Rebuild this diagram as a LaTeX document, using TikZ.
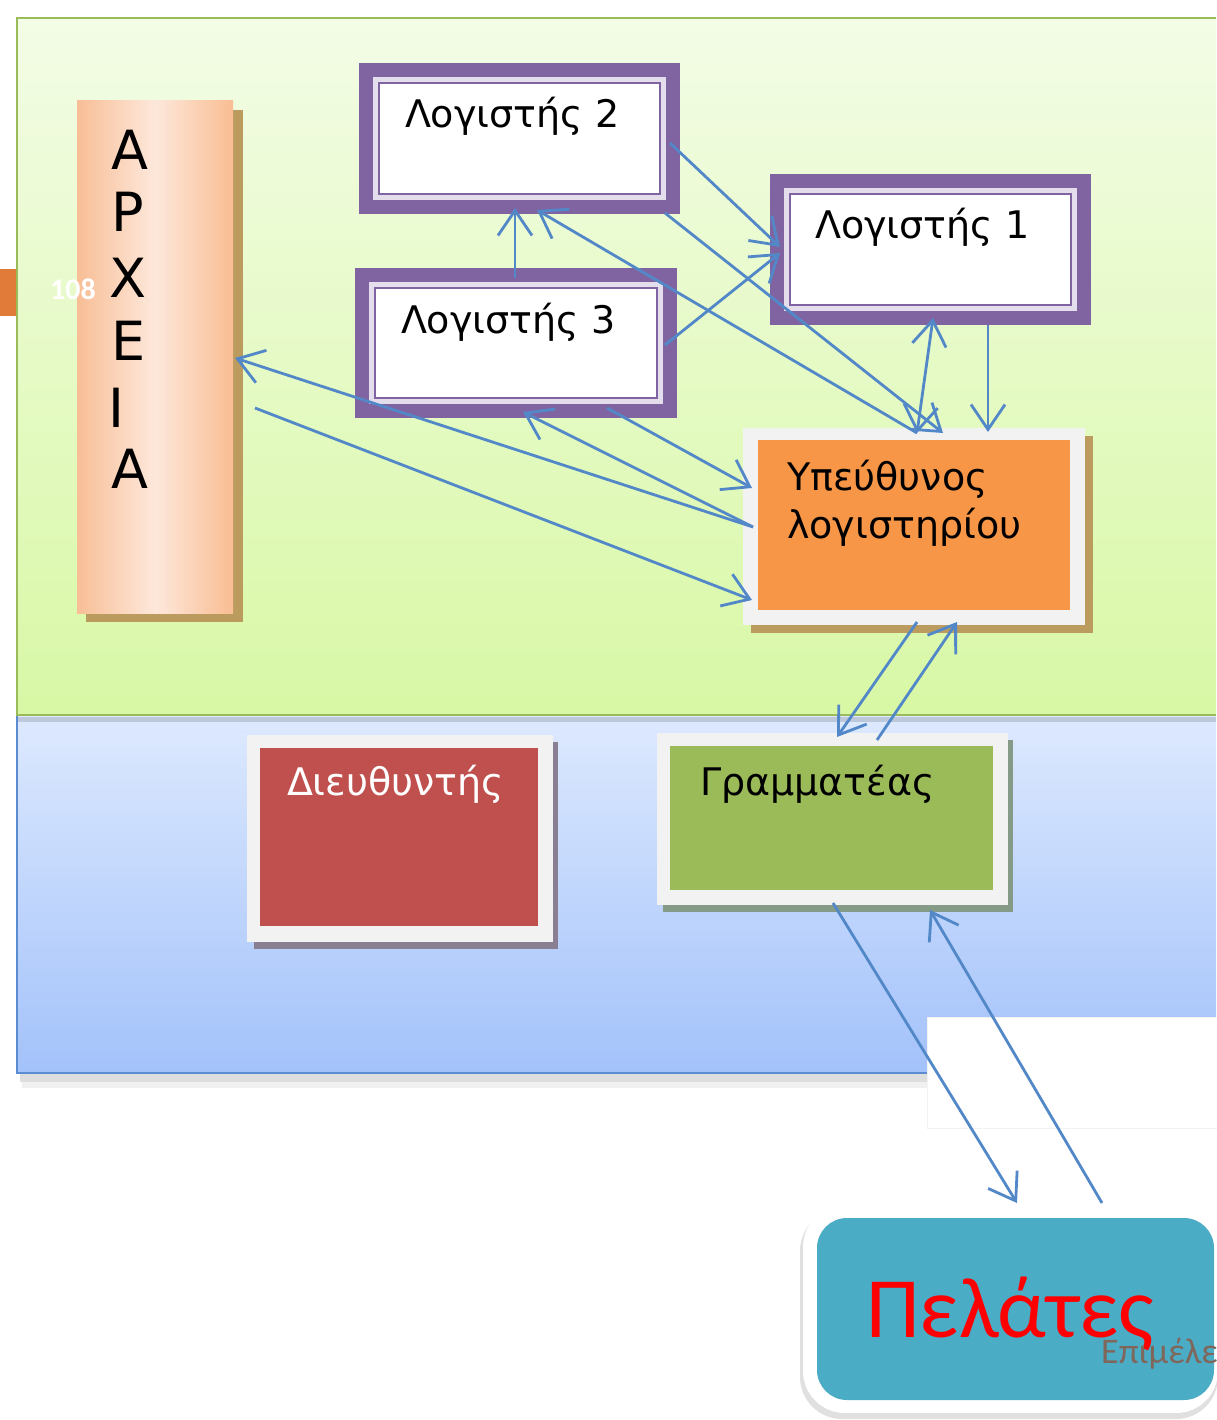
\documentclass[tikz,border=0pt]{standalone}
\usepackage{fontspec}
\setmainfont{DejaVu Sans}
\newfontfamily\calib{Carlito}
\usetikzlibrary{arrows.meta}
\definecolor{gtop}{HTML}{F3FCE6}
\definecolor{gbot}{HTML}{D8F8A5}
\definecolor{gborder}{HTML}{9BBB59}
\definecolor{btop}{HTML}{DDE9FE}
\definecolor{bbot}{HTML}{A3C2FA}
\definecolor{bborder}{HTML}{5B8BD0}
\definecolor{purplec}{HTML}{8064A2}
\definecolor{lavc}{HTML}{E4DDEC}
\definecolor{framegray}{HTML}{F2F2F2}
\definecolor{orangec}{HTML}{F79646}
\definecolor{tanc}{HTML}{BC9B5E}
\definecolor{redc}{HTML}{C0504D}
\definecolor{dshadow}{HTML}{8A7E92}
\definecolor{greenc}{HTML}{9BBB59}
\definecolor{gshadow}{HTML}{869A88}
\definecolor{tealc}{HTML}{4BACC6}
\definecolor{arrowc}{HTML}{5288C8}
\definecolor{tabc}{HTML}{E07B3A}
\definecolor{arxL}{HTML}{F8BE96}
\definecolor{arxM}{HTML}{FDE8DB}
\definecolor{arxR}{HTML}{F9BD93}
\definecolor{brownt}{HTML}{7F675C}
\begin{document}
\begin{tikzpicture}[x=1pt,y=-1pt,
  box/.style={inner sep=0pt, outer sep=0pt},
  purplebox/.style={box, fill=purplec, minimum width=321pt, minimum height=151pt},
  lbl/.style={inner sep=0pt, outer sep=0pt, anchor=base west, font=\fontsize{38}{44}\selectfont},
  arxl/.style={inner sep=0pt, outer sep=0pt, anchor=base west, font=\fontsize{54}{60}\selectfont},
  tipa/.tip={Straight Barb[length=25pt,width=34pt,line width=2.8pt]},
  conn/.style={draw=arrowc, line width=2.8pt, -tipa},
  biconn/.style={draw=arrowc, line width=2.8pt, tipa-tipa},
]
\useasboundingbox (0,0) rectangle (1216,1420);
\fill[white] (0,0) rectangle (1216,1420);

% green panel
\path[top color=gtop, bottom color=gbot] (17,18) rectangle (1216,715);
\draw[gborder, line width=2pt] (1216,18) -- (17,18) -- (17,715) -- (1216,715);
% blue panel
\path[top color=btop, bottom color=bbot] (17,716) rectangle (1216,1073);
\fill[black!40!btop, opacity=0.35] (18,717) rectangle (1216,722);
\fill[black, opacity=0.13] (20,1074) rectangle (927,1082);
\fill[black, opacity=0.06] (22,1082) rectangle (927,1088);
\draw[bborder, line width=2.5pt] (17,716) -- (17,1073) -- (927,1073);
% white cut-out
\path[fill=white, draw=black!5] (927,1017) rectangle (1217,1128);

% shadows
\fill[tanc] (86,110) rectangle (243,622);
\fill[tanc] (751,436) rectangle (1093,633);
\fill[dshadow] (254,742) rectangle (558,949);
\fill[gshadow] (663,740) rectangle (1013,912);
\fill[black, opacity=0.12, rounded corners=42] (800,1209) rectangle (1218,1419);

% ARXEIA
\node[box, minimum width=156pt, minimum height=512pt, left color=arxL, right color=arxR, middle color=arxM] (arx) at (155,357) {};
\node[arxl] (a1) at (111,170) {Α};
\node[arxl] (a2) at (111,232) {Ρ};
\node[arxl] (a3) at (109,298) {Χ};
\node[arxl] (a4) at (111,360) {Ε};
\node[arxl] (a5) at (108,427) {Ι};
\node[arxl] (a6) at (111,488) {Α};

% accountant boxes
\node[purplebox] (l2) at (519.5,138.5) {};
\node[purplebox, minimum width=322pt, minimum height=150pt] (l3) at (516,343) {};
\node[purplebox] (l1) at (930.5,249.5) {};
\foreach \n in {l1,l2,l3}{
  \path[fill=lavc] ([shift={(14,-14)}]\n.south west) rectangle ([shift={(-14,14)}]\n.north east);
  \path[fill=white, draw=purplec, line width=2.2pt] ([shift={(20,-20)}]\n.south west) rectangle ([shift={(-20,20)}]\n.north east);
}
\node[lbl] (l2t) at (405,128) {Λογιστής 2};
\node[lbl] (l3t) at (401,333) {Λογιστής 3};
\node[lbl] (l1t) at (815,239) {Λογιστής 1};

% head of accounting
\node[box, fill=framegray, minimum width=342pt, minimum height=197pt] (yp) at (914,526.5) {};
\path[fill=orangec] ([shift={(15,-15)}]yp.south west) rectangle ([shift={(-15,12)}]yp.north east);
\node[lbl] (ypt1) at (787,490) {Υπεύθυνος};
\node[lbl] (ypt2) at (787,538) {λογιστηρίου};

% director
\node[box, fill=framegray, minimum width=306pt, minimum height=207pt] (dir) at (400,838.5) {};
\path[fill=redc] ([shift={(13,-16)}]dir.south west) rectangle ([shift={(-15,13)}]dir.north east);
\node[lbl, text=white] (dirt) at (287,795) {Διευθυντής};

% secretary
\node[box, fill=framegray, minimum width=351pt, minimum height=172pt] (gr) at (832.5,819) {};
\path[fill=greenc] ([shift={(13,-15)}]gr.south west) rectangle ([shift={(-15,13)}]gr.north east);
\node[lbl] (grt) at (700,795) {Γραμματέας};

% customers
\node[box, fill=white, rounded corners=42, minimum width=415pt, minimum height=208pt] (pel) at (1010.5,1309) {};
\path[fill=tealc, rounded corners=30] ([shift={(14,-13)}]pel.south west) rectangle ([shift={(-4,13)}]pel.north east);
\node[inner sep=0pt, anchor=base west, text=red, font=\calib\fontsize{86}{90}\selectfont] (pelt) at (866,1337) {Πελάτες};
\node[inner sep=0pt, anchor=base west, text=brownt, font=\calib\fontsize{36}{40}\selectfont] (epi) at (1101,1363) {Επιμέλε};

% connectors
\draw[conn] ([shift={(-10,4.5)}]l2.east) -- ([shift={(10,-2.5)}]l1.west);
\draw[conn] ([shift={(-12,2)}]l3.east) -- ([shift={(10,3.5)}]l1.west);
\draw[conn] ([shift={(145.5,-1)}]l2.south) -- ([shift={(29,5)}]yp.north);
\draw[conn] ([shift={(3,5)}]yp.north) -- ([shift={(17.5,-4)}]l2.south);
\draw[biconn] ([shift={(2.5,-7)}]l1.south) -- ([shift={(3,5)}]yp.north);
\draw[conn] ([shift={(57.5,0)}]l1.south) -- ([shift={(74,4)}]yp.north);
\draw[conn] ([shift={(-1,10)}]l3.north) -- ([shift={(-4.5,-6)}]l2.south);
\draw[conn] ([shift={(10,0.5)}]yp.west) -- ([shift={(7,-6)}]l3.south);
\draw[conn] ([shift={(10,0.5)}]yp.west) -- ([shift={(2,1)}]arx.east);
\draw[conn] ([shift={(91,-10)}]l3.south) -- ([shift={(9,-38.5)}]yp.west);
\draw[conn] ([shift={(22,51)}]arx.east) -- ([shift={(9,73.5)}]yp.west);
\draw[conn] ([shift={(3,-3)}]yp.south) -- ([shift={(4.5,4)}]gr.north);
\draw[conn] ([shift={(44.5,7)}]gr.north) -- ([shift={(43,-3)}]yp.south);
\draw[conn] ([shift={(0.5,-2)}]gr.south) -- ([shift={(6.5,-2)}]pel.north);
\draw[conn] ([shift={(91.5,-2)}]pel.north) -- ([shift={(97.5,5)}]gr.south);

% slide number tab
\fill[tabc] (0,269) rectangle (16,316);
\node[inner sep=0pt, anchor=base west, text=white, font=\calib\bfseries\fontsize{30}{34}\selectfont] (num) at (50,300) {108};
\end{tikzpicture}
\end{document}
